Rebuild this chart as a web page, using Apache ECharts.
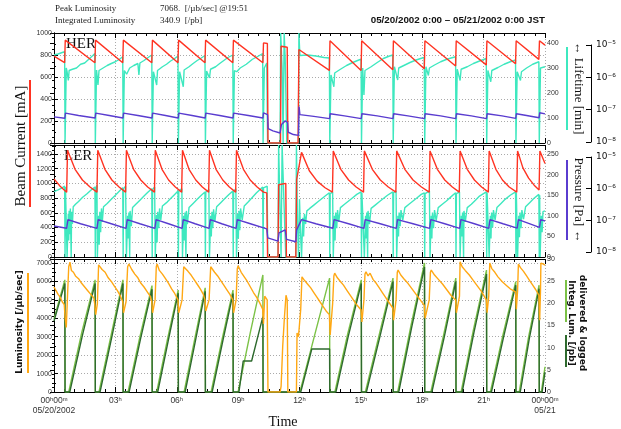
<!DOCTYPE html>
<html><head><meta charset="utf-8">
<script src="https://cdn.jsdelivr.net/npm/echarts@6/dist/echarts.min.js"></script>
<style>html,body{margin:0;padding:0;background:#fff}#c{width:621px;height:429px}</style>
</head><body><div id="c"></div>
<script>
// ---------- tick labels ----------
var timeTickValues = [0,3,6,9,12,15,18,21,24];
var timeTickLabels = ['00\u02b000\u1d50\n05/20/2002','03\u02b0','06\u02b0','09\u02b0','12\u02b0','15\u02b0','18\u02b0','21\u02b0','00\u02b000\u1d50\n05/21'];
var pressureTicks = [1e-8,1e-7,1e-6,1e-5];
var pressureTickLabels = ['10\u207b\u2078','10\u207b\u2077','10\u207b\u2076','10\u207b\u2075'];

// ---------- HER panel ----------
var herCurrent = [[0,790],[0.52,730],[0.55,935],[2.0,730],[2.03,935],[3.36,730],[3.39,935],[4.78,730],[4.81,935],
[6.06,730],[6.09,935],[7.38,730],[7.41,935],[8.74,730],[8.77,935],[10.21,730],[10.24,910],[10.43,905],[10.46,0],
[11.07,0],[11.1,880],[11.4,870],[11.43,0],[11.93,0],[11.97,850],[13.46,660],[13.49,930],[15.01,660],[15.04,930],
[16.56,665],[16.59,930],[18.1,675],[18.13,930],[19.63,700],[19.66,930],[21.13,710],[21.16,930],[22.56,720],[22.59,930],
[23.7,760],[23.73,930],[24,890]];
var herLifetime = [[0,352],[0.2,356],[0.4,362],[0.52,365],[0.54,0],[0.58,0],[0.6,300],[0.64,285],[0.7,250],[0.74,290],[0.9,295],[1.1,300],[1.3,315],[1.5,320],[1.7,335],[1.9,350],[2.0,358],
[2.02,0],[2.06,0],[2.08,292],[2.15,232],[2.2,290],[2.4,300],[2.6,310],[2.8,318],[3.0,325],[3.2,335],[3.36,345],
[3.38,0],[3.42,0],[3.44,290],[3.55,275],[3.7,300],[3.9,310],[4.1,318],[4.15,272],[4.2,320],[4.4,330],[4.6,342],[4.78,352],
[4.8,0],[4.84,0],[4.86,285],[5.02,232],[5.06,290],[5.3,305],[5.5,315],[5.7,328],[5.9,338],[6.06,348],
[6.08,0],[6.12,0],[6.14,285],[6.32,225],[6.36,292],[6.6,305],[6.8,318],[7.0,330],[7.2,340],[7.38,350],
[7.4,0],[7.44,0],[7.46,288],[7.6,260],[7.65,295],[7.9,305],[8.1,318],[8.3,330],[8.5,342],[8.74,352],
[8.76,0],[8.8,0],[8.82,290],[8.93,285],[9.1,300],[9.4,315],[9.7,335],[10.0,348],[10.2,358],
[10.22,0],[10.26,0],[10.28,300],[10.4,320],[10.44,0],[11.05,0],[11.08,440],[11.15,300],[11.2,0],[11.25,440],[11.3,340],[11.38,0],
[11.95,0],[11.97,440],[12.02,350],[12.4,352],[12.8,348],[13.2,342],[13.46,340],
[13.48,0],[13.52,0],[13.54,272],[13.68,225],[13.72,280],[14.0,295],[14.3,310],[14.6,322],[14.9,332],[15.01,335],
[15.03,0],[15.07,0],[15.09,300],[15.15,192],[15.2,290],[15.5,305],[15.8,322],[16.1,338],[16.4,348],[16.56,352],
[16.58,0],[16.62,0],[16.64,305],[16.8,252],[16.85,300],[17.1,310],[17.4,322],[17.7,332],[18.0,340],[18.1,342],
[18.12,0],[18.16,0],[18.18,305],[18.3,270],[18.35,300],[18.6,312],[18.9,325],[19.2,335],[19.5,342],[19.63,345],
[19.65,0],[19.69,0],[19.71,295],[19.85,250],[19.9,295],[20.2,305],[20.5,318],[20.8,328],[21.13,338],
[21.15,0],[21.19,0],[21.21,290],[21.35,245],[21.4,290],[21.7,302],[22.0,315],[22.3,325],[22.56,332],
[22.58,0],[22.62,0],[22.64,285],[22.8,250],[22.85,285],[23.1,300],[23.4,315],[23.7,325],
[23.72,0],[23.76,0],[23.78,300],[24,305]];
var herPressure = [[0,6.0e-8],[0.53,5.4e-8],[0.56,7.8e-8],[1.2,6.6e-8],[2.01,5.5e-8],[2.04,7.8e-8],[2.7,6.6e-8],[3.37,5.5e-8],[3.4,7.8e-8],
[4.1,6.6e-8],[4.79,5.5e-8],[4.82,7.8e-8],[5.45,6.6e-8],[6.07,5.5e-8],[6.1,7.8e-8],[6.75,6.6e-8],[7.39,5.5e-8],[7.42,7.8e-8],
[8.1,6.6e-8],[8.75,5.5e-8],[8.78,7.8e-8],[9.5,6.6e-8],[10.21,5.5e-8],[10.24,8e-8],[10.44,7e-8],[10.47,2.6e-8],[10.7,2.2e-8],
[11.05,1.9e-8],[11.12,3.5e-8],[11.3,4.5e-8],[11.42,4e-8],[11.45,2e-8],[11.7,1.7e-8],[11.95,1.6e-8],[11.98,1.25e-7],[12.02,7e-8],
[12.7,6.2e-8],[13.47,5.3e-8],[13.5,7.5e-8],[14.2,6.4e-8],[15.02,5.3e-8],[15.05,7.5e-8],[15.8,6.4e-8],[16.57,5.3e-8],[16.6,7.5e-8],
[17.3,6.4e-8],[18.11,5.3e-8],[18.14,7.5e-8],[18.9,6.4e-8],[19.64,5.3e-8],[19.67,7.5e-8],[20.4,6.4e-8],[21.14,5.3e-8],[21.17,7.5e-8],
[21.9,6.4e-8],[22.57,5.4e-8],[22.6,7.5e-8],[23.1,6.6e-8],[23.71,5.6e-8],[23.74,8e-8],[24,7.4e-8]];

// ---------- LER panel ----------
var lerCurrent = [[0,1060],[0.3,960],[0.62,880],[0.66,1450],[1.03,1190],[1.39,1045],[1.76,950],[2.1,880],[2.14,1450],
[2.49,1190],[2.83,1045],[3.18,950],[3.5,880],[3.54,1450],[3.89,1190],[4.24,1045],[4.58,950],[4.91,880],[4.95,1450],
[5.28,1190],[5.6,1045],[5.93,950],[6.24,880],[6.28,1450],[6.6,1190],[6.93,1045],[7.25,950],[7.56,880],[7.6,1450],
[7.92,1190],[8.25,1045],[8.57,950],[8.88,880],[8.92,1450],[9.26,1190],[9.59,1045],[9.93,950],[10.24,880],[10.4,870],[10.44,0],
[10.95,0],[10.98,980],[11.33,1000],[11.36,0],[11.82,0],[11.86,1050],[12.1,1420],[12.48,1170],[12.86,1030],[13.25,940],[13.61,880],
[13.65,1440],[14.02,1190],[14.4,1045],[14.77,950],[15.13,880],[15.17,1440],[15.56,1190],[15.95,1045],[16.34,950],[16.71,880],
[16.75,1440],[17.15,1190],[17.55,1045],[17.96,950],[18.34,880],[18.38,1440],[18.74,1190],[19.1,1045],[19.47,950],[19.81,880],
[19.85,1440],[20.2,1190],[20.55,1045],[20.9,950],[21.23,880],[21.27,1440],[21.6,1190],[21.92,1045],[22.25,950],[22.62,880],
[22.66,1440],[22.92,1210],[23.2,1070],[23.47,975],[23.71,910],[23.75,1440],[24,1270]];
var lerLifetime = [[0,159],[0.2,163],[0.4,168],[0.52,172],[0.54,0],[0.56,170],[0.62,174],[0.64,0],[0.68,0],[0.7,105],[0.72,40],[0.74,112],[0.77,55],[0.8,118],[0.84,0],[0.86,110],[0.9,80],[0.94,122],[1.05,128],[1.2,135],[1.4,145],[1.6,153],[1.8,162],[2.0,170],
[2.02,0],[2.04,168],[2.1,174],[2.12,0],[2.16,0],[2.18,100],[2.21,30],[2.24,110],[2.28,60],[2.32,118],[2.36,85],[2.42,122],[2.6,130],[2.8,140],[3.0,150],[3.2,160],[3.36,168],
[3.38,0],[3.4,166],[3.5,172],[3.54,0],[3.58,0],[3.6,100],[3.63,45],[3.66,108],[3.7,0],[3.72,112],[3.78,75],[3.84,120],[4.0,128],[4.2,138],[4.4,148],[4.6,158],[4.78,166],
[4.8,0],[4.82,164],[4.92,170],[4.95,0],[4.99,0],[5.01,102],[5.04,35],[5.07,110],[5.12,70],[5.16,118],[5.22,90],[5.3,124],[5.5,132],[5.7,142],[5.9,152],[6.06,160],
[6.08,0],[6.1,160],[6.25,166],[6.28,0],[6.32,0],[6.34,100],[6.37,40],[6.4,108],[6.45,0],[6.47,112],[6.52,80],[6.6,120],[6.8,130],[7.0,140],[7.2,150],[7.38,158],
[7.4,0],[7.42,158],[7.57,164],[7.6,0],[7.64,0],[7.66,100],[7.69,50],[7.72,110],[7.76,70],[7.8,116],[7.86,85],[7.95,122],[8.15,132],[8.35,142],[8.55,152],[8.74,160],
[8.76,0],[8.78,160],[8.89,166],[8.92,0],[8.96,0],[8.98,105],[9.01,45],[9.04,112],[9.08,65],[9.12,118],[9.2,90],[9.3,124],[9.5,134],[9.7,145],[9.9,156],[10.1,165],[10.2,170],
[10.22,0],[10.24,168],[10.42,172],[10.45,0],[10.95,0],[10.98,272],[11.05,110],[11.1,0],[11.15,272],[11.25,120],[11.33,0],[11.82,0],[11.85,272],[11.9,90],[11.95,0],[12.0,140],[12.05,60],[12.1,0],[12.14,0],[12.16,95],[12.2,50],[12.24,105],[12.3,80],[12.36,112],[12.5,118],[12.7,126],[12.9,134],[13.1,142],[13.3,150],[13.46,156],
[13.48,0],[13.5,154],[13.62,158],[13.65,0],[13.69,0],[13.71,100],[13.74,40],[13.77,108],[13.82,70],[13.86,114],[13.92,85],[14.0,120],[14.2,128],[14.4,136],[14.6,144],[14.8,152],[15.01,158],
[15.03,0],[15.05,156],[15.14,160],[15.17,0],[15.21,0],[15.23,100],[15.26,45],[15.29,108],[15.33,0],[15.35,112],[15.42,80],[15.5,118],[15.7,126],[15.9,134],[16.1,142],[16.3,150],[16.56,158],
[16.58,0],[16.6,156],[16.72,160],[16.75,0],[16.79,0],[16.81,100],[16.84,50],[16.87,108],[16.92,75],[16.96,114],[17.05,90],[17.15,120],[17.35,128],[17.55,136],[17.75,144],[17.95,152],[18.1,156],
[18.12,0],[18.14,154],[18.35,160],[18.38,0],[18.42,0],[18.44,100],[18.47,45],[18.5,108],[18.55,70],[18.6,114],[18.68,88],[18.78,120],[18.98,128],[19.18,136],[19.4,146],[19.63,156],
[19.65,0],[19.67,154],[19.82,158],[19.85,0],[19.89,0],[19.91,100],[19.94,50],[19.97,108],[20.02,0],[20.04,112],[20.1,85],[20.2,120],[20.4,128],[20.6,138],[20.8,148],[21.13,158],
[21.15,0],[21.17,156],[21.24,160],[21.27,0],[21.31,0],[21.33,100],[21.36,45],[21.39,108],[21.44,72],[21.48,114],[21.56,90],[21.65,120],[21.85,130],[22.05,140],[22.3,150],[22.56,158],
[22.58,0],[22.6,156],[22.64,158],[22.66,0],[22.7,0],[22.72,100],[22.75,48],[22.78,108],[22.83,70],[22.87,114],[22.95,92],[23.05,122],[23.25,132],[23.45,142],[23.7,152],
[23.72,0],[23.74,150],[23.76,0],[23.8,0],[23.82,100],[23.86,60],[23.9,110],[24,112]];
var lerPressure = [[0,6.6e-8],[0.62,5.6e-8],[0.68,1.05e-7],[1.3,7.8e-8],[2.1,5.6e-8],[2.16,1.05e-7],[2.8,7.8e-8],[3.52,5.6e-8],[3.58,1.05e-7],
[4.2,7.8e-8],[4.93,5.6e-8],[4.99,1.05e-7],[5.6,7.8e-8],[6.26,5.6e-8],[6.32,1.05e-7],[6.9,7.8e-8],[7.58,5.6e-8],[7.64,1.05e-7],
[8.2,7.8e-8],[8.9,5.6e-8],[8.96,1.05e-7],[9.6,7.8e-8],[10.4,5.4e-8],[10.45,2.8e-8],[10.95,2.2e-8],[11.0,4e-8],[11.3,5e-8],
[11.37,2.5e-8],[11.82,2.1e-8],[11.86,5e-8],[12.1,1.05e-7],[12.8,7.8e-8],[13.63,5.6e-8],[13.69,1.05e-7],[14.4,7.8e-8],[15.15,5.6e-8],
[15.21,1.05e-7],[15.95,7.8e-8],[16.73,5.6e-8],[16.79,1.05e-7],[17.55,7.8e-8],[18.36,5.6e-8],[18.42,1.05e-7],[19.1,7.8e-8],
[19.83,5.6e-8],[19.89,1.05e-7],[20.55,7.8e-8],[21.25,5.6e-8],[21.31,1.05e-7],[21.95,7.8e-8],[22.64,5.7e-8],[22.7,1.05e-7],
[23.2,8e-8],[23.73,6e-8],[23.79,1.05e-7],[24,9.5e-8]];

// ---------- Luminosity panel ----------
var luminosity = [[0,5700],[0.1,5500],[0.2,5300],[0.3,5150],[0.4,4900],[0.5,4750],[0.54,4100],[0.6,3500],[0.66,5200],[0.72,6800],[0.78,7050],[0.85,6600],[0.95,6500],[1.05,6300],[1.2,6150],[1.35,5900],[1.5,5700],[1.65,5500],[1.8,5300],[1.95,5100],[2.0,4700],
[2.04,4200],[2.12,4800],[2.18,6900],[2.24,7000],[2.35,6650],[2.5,6500],[2.65,6200],[2.8,6000],[2.95,5750],[3.1,5500],[3.25,5200],[3.36,4900],
[3.4,4300],[3.52,4900],[3.6,6800],[3.66,6950],[3.8,6650],[3.95,6400],[4.1,6200],[4.25,5900],[4.4,5700],[4.55,5450],[4.7,5200],[4.78,4900],
[4.82,4300],[4.94,5000],[5.0,6800],[5.04,6950],[5.15,6600],[5.3,6400],[5.45,6150],[5.6,5900],[5.75,5600],[5.9,5350],[6.06,5000],
[6.1,4300],[6.26,5000],[6.34,6800],[6.4,6900],[6.55,6550],[6.7,6350],[6.85,6100],[7.0,5850],[7.15,5600],[7.3,5300],[7.38,5000],
[7.42,4400],[7.58,5000],[7.66,6800],[7.72,6850],[7.85,6500],[8.0,6300],[8.15,6050],[8.3,5800],[8.45,5550],[8.6,5300],[8.74,5000],
[8.78,4300],[8.9,5000],[8.96,6700],[9.0,6850],[9.15,6500],[9.3,6250],[9.45,6000],[9.6,5700],[9.75,5400],[9.9,5150],[10.05,4850],[10.2,4500],
[10.24,3700],[10.3,5200],[10.42,5000],[10.46,0],[11.05,0],[11.1,300],[11.18,2500],[11.26,4000],[11.34,5250],[11.4,5000],[11.43,0],[11.85,0],[11.88,3200],[11.95,3000],[12.0,3100],[12.06,4500],[12.12,6250],
[12.25,6050],[12.4,5850],[12.55,5650],[12.7,5400],[12.85,5150],[13.0,4900],[13.15,4650],[13.3,4400],[13.46,4200],
[13.5,3100],[13.62,4800],[13.68,6300],[13.72,6450],[13.85,6200],[14.0,6000],[14.15,5800],[14.3,5550],[14.45,5300],[14.6,5050],[14.75,4800],[14.9,4600],[15.01,4450],
[15.05,3800],[15.15,5000],[15.2,6400],[15.25,6530],[15.35,6300],[15.45,6450],[15.6,6100],[15.75,5900],[15.9,5650],[16.05,5400],[16.2,5150],[16.35,4900],[16.56,4560],
[16.6,3900],[16.72,5000],[16.78,6500],[16.82,6620],[16.95,6350],[17.1,6150],[17.3,5900],[17.5,5600],[17.7,5300],[17.9,5000],[18.1,4700],
[18.14,4000],[18.34,5000],[18.4,6500],[18.44,6620],[18.6,6350],[18.8,6100],[19.0,5850],[19.2,5550],[19.4,5250],[19.63,5000],
[19.67,4300],[19.82,5200],[19.85,7068],[19.95,6800],[20.1,6600],[20.3,6350],[20.5,6050],[20.7,5750],[20.9,5450],[21.13,5000],
[21.17,4300],[21.25,5200],[21.3,7000],[21.4,6700],[21.55,6500],[21.7,6250],[21.9,6000],[22.1,5800],[22.3,5600],[22.56,5440],
[22.6,4500],[22.66,5500],[22.7,6950],[22.8,6750],[22.95,6550],[23.1,6300],[23.25,6050],[23.4,5800],[23.55,5550],[23.7,5260],
[23.74,3900],[23.78,5500],[23.8,7000],[23.9,6950],[24,6890]];
var integDelivered = [[0,16.5],[0.53,25.3],[0.54,0],[0.72,0],[1.36,13.5],[2.01,25.3],[2.02,0],[2.2,0],[2.8,13],[3.37,25.3],[3.38,0],
[3.62,0],[4.2,12.5],[4.79,24],[4.8,0],[5.02,0],[5.55,12],[6.07,23],[6.08,0],[6.36,0],[6.88,12],[7.39,23.5],[7.4,0],[7.68,0],
[8.22,12],[8.75,23],[8.76,0],[9.0,0],[9.6,13.5],[10.21,26.4],[10.22,0],[12.02,0],[12.75,13],[13.47,25.7],[13.48,0],[13.73,0],
[14.35,13],[15.02,25.3],[15.03,0],[15.22,0],[15.9,13],[16.57,25.7],[16.58,0],[16.8,0],[17.45,15],[18.11,29.1],[18.12,0],[18.42,0],
[19.05,13],[19.64,25.7],[19.65,0],[19.9,0],[20.5,14],[21.14,27.5],[21.15,0],[21.33,0],[21.95,13],[22.57,24.9],[22.58,0],[22.74,0],
[23.2,12.5],[23.71,24.1],[23.72,0],[23.82,0],[24,5.7]];
var integLogged = [[0,16],[0.53,24.5],[0.54,0],[0.77,0],[1.4,13],[2.01,24.5],[2.02,0],[2.25,0],[2.83,12.5],[3.37,24.5],[3.38,0],
[3.67,0],[4.23,12],[4.79,23.2],[4.8,0],[5.07,0],[5.58,11.5],[6.07,22.3],[6.08,0],[6.41,0],[6.91,11.5],[7.39,22.7],[7.4,0],[7.73,0],
[8.25,11.5],[8.75,22.2],[8.76,0],[9.04,0],[9.25,7],[9.66,7],[10.21,17],[10.22,0],[12.06,0],[12.6,9.7],[13.47,9.7],[13.48,0],
[13.78,0],[14.38,12.5],[15.02,24.5],[15.03,0],[15.27,0],[15.93,12.5],[16.57,24.9],[16.58,0],[16.85,0],[17.48,14.5],[18.11,28.2],[18.12,0],
[18.47,0],[19.08,12.5],[19.64,24.9],[19.65,0],[19.95,0],[20.53,13.5],[21.14,26.6],[21.15,0],[21.38,0],[21.98,12.5],[22.57,24.1],[22.58,0],
[22.79,0],[23.23,12],[23.71,23.3],[23.72,0],[23.86,0],[24,4.5]];

// ---------- chart ----------
var C = {red:'#ff3322', teal:'#3ee8bf', purple:'#5a3ccf', orange:'#ffa814', lgreen:'#7cc247', dgreen:'#2e6a2e'};
var tickFont = {fontFamily:'Liberation Sans', fontSize:7, color:'#333'};
var chart = echarts.init(document.getElementById('c'));

function xMain(grid, labels){
  return {type:'value', gridIndex:grid, min:0, max:24, interval:3, position:'bottom',
    axisLine:{show:true, onZero:false, lineStyle:{color:'#000', width:1}},
    axisTick:{show:true, inside:true, length:5, lineStyle:{color:'#000'}},
    minorTick:{show:true, splitNumber:6, length:3, lineStyle:{color:'#000'}},
    splitLine:{show:true, lineStyle:{color:'#aaa', type:[1,2], width:1}},
    axisLabel:{show:labels, fontFamily:'Liberation Sans', fontSize:8.5, color:'#333', lineHeight:10, margin:4,
      formatter:function(v){var i=timeTickValues.indexOf(v);return i<0?'':timeTickLabels[i];}}};
}
function xTop(grid){
  return {type:'value', gridIndex:grid, min:0, max:24, interval:3, position:'top',
    axisLine:{show:true, onZero:false, lineStyle:{color:'#000', width:1}},
    axisTick:{show:true, inside:true, length:5, lineStyle:{color:'#000'}},
    minorTick:{show:true, splitNumber:6, length:3, lineStyle:{color:'#000'}},
    splitLine:{show:false}, axisLabel:{show:false}};
}
function xDummy(grid){ return {type:'value', gridIndex:grid, show:false, min:0, max:1}; }
function yLin(grid, pos, max, interval, minorN, split){
  return {type:'value', gridIndex:grid, position:pos, min:0, max:max, interval:interval,
    axisLine:{show:true, lineStyle:{color:'#000', width:1}},
    axisTick:{show:true, inside:true, length:4, lineStyle:{color:'#000'}},
    minorTick:{show:true, splitNumber:minorN, length:2, lineStyle:{color:'#000'}},
    splitLine:{show:split, lineStyle:{color:'#aaa', type:[1,2], width:1}},
    axisLabel:Object.assign({margin:2, showMaxLabel: (max % interval === 0),
      formatter:function(v){return String(v);}}, tickFont)};
}
function yLogHidden(grid, mn, mx){ return {type:'log', logBase:10, gridIndex:grid, show:false, min:mn, max:mx}; }
function yLogShown(grid){
  return {type:'log', logBase:10, gridIndex:grid, position:'right', min:1e-8, max:1e-5,
    axisLine:{show:true, lineStyle:{color:'#000', width:1}},
    axisTick:{show:true, inside:true, length:5, lineStyle:{color:'#000'}},
    splitLine:{show:false}, minorTick:{show:false},
    axisLabel:{margin:4, fontFamily:'DejaVu Sans', fontSize:9, color:'#111',
      formatter:function(v){for(var i=0;i<pressureTicks.length;i++){if(Math.abs(Math.log10(v)-Math.log10(pressureTicks[i]))<1e-6)return pressureTickLabels[i];}return '';}}};
}
function line(name, data, xi, yi, color, z){
  return {name:name, type:'line', data:data, xAxisIndex:xi, yAxisIndex:yi, showSymbol:false, symbol:'none',
    clip:true, lineStyle:{color:color, width:1.4}, z:z||2, animation:false};
}

var option = {
  animation:false,
  backgroundColor:'#fff',
  grid:[
    {left:54, width:491, top:33, height:110},
    {left:54, width:491, top:145, height:112},
    {left:54, width:491, top:259, height:133},
    {left:591, width:1, top:45, height:97},
    {left:591, width:1, top:157, height:95}
  ],
  xAxis:[xMain(0,false), xMain(1,false), xMain(2,true), xTop(0), xTop(1), xTop(2), xDummy(3), xDummy(4)],
  yAxis:[
    yLin(0,'left',1000,200,2,true),
    yLin(0,'right',440,100,4,false),
    yLogHidden(0, 9.31e-9, 2.35e-5),
    yLin(1,'left',1520,200,2,true),
    yLin(1,'right',272,50,5,false),
    yLogHidden(1, 6.95e-9, 2.39e-5),
    yLin(2,'left',7220,1000,2,true),
    yLin(2,'right',30,5,5,false),
    yLogShown(3),
    yLogShown(4)
  ],
  series:[
    line('HER lifetime', herLifetime, 0, 1, C.teal, 2),
    line('HER current', herCurrent, 0, 0, C.red, 3),
    line('HER pressure', herPressure, 0, 2, C.purple, 4),
    line('LER lifetime', lerLifetime, 1, 4, C.teal, 2),
    line('LER current', lerCurrent, 1, 3, C.red, 3),
    line('LER pressure', lerPressure, 1, 5, C.purple, 4),
    line('Delivered', integDelivered, 2, 7, C.lgreen, 2),
    line('Logged', integLogged, 2, 7, C.dgreen, 3),
    line('Luminosity', luminosity, 2, 6, C.orange, 4)
  ],
  graphic:[
    {type:'text', left:55, top:4, style:{text:'Peak Luminosity', font:'9px "Liberation Serif"', fill:'#222'}},
    {type:'text', left:55, top:16, style:{text:'Integrated Luminosity', font:'9px "Liberation Serif"', fill:'#222'}},
    {type:'text', left:160, top:4, style:{text:'7068.  [/\u00b5b/sec] @19:51', font:'9px "Liberation Serif"', fill:'#222'}},
    {type:'text', left:160, top:16, style:{text:'340.9  [/pb]', font:'9px "Liberation Serif"', fill:'#222'}},
    {type:'text', right:76, top:15, style:{text:'05/20/2002 0:00 \u2013 05/21/2002 0:00 JST', font:'bold 9.8px "Liberation Sans"', fill:'#111'}},
    {type:'text', left:66, top:37, style:{text:'HER', font:'15px "Liberation Serif"', fill:'#111'}},
    {type:'text', left:64, top:149, style:{text:'LER', font:'15px "Liberation Serif"', fill:'#111'}},
    {type:'text', x:21, y:146, rotation:Math.PI/2, style:{text:'Beam Current [mA]', font:'15px "Liberation Serif"', fill:'#111', align:'center', verticalAlign:'middle'}},
    {type:'line', shape:{x1:30, y1:80, x2:30, y2:207}, style:{stroke:C.red, lineWidth:2}},
    {type:'text', x:578, y:88, rotation:-Math.PI/2, style:{text:'\u2194 Lifetime [min]', font:'13px "Liberation Serif"', fill:'#111', align:'center', verticalAlign:'middle'}},
    {type:'line', shape:{x1:567, y1:47, x2:567, y2:130}, style:{stroke:C.teal, lineWidth:2}},
    {type:'text', x:578, y:200, rotation:-Math.PI/2, style:{text:'Pressure [Pa] \u2194', font:'13px "Liberation Serif"', fill:'#111', align:'center', verticalAlign:'middle'}},
    {type:'line', shape:{x1:567, y1:160, x2:567, y2:240}, style:{stroke:C.purple, lineWidth:2}},
    {type:'text', x:20, y:322, rotation:Math.PI/2, style:{text:'Luminosity [/\u00b5b/sec]', font:'bold 9px "DejaVu Sans"', fill:'#111', align:'center', verticalAlign:'middle'}},
    {type:'line', shape:{x1:28, y1:273, x2:28, y2:373}, style:{stroke:C.orange, lineWidth:2}},
    {type:'text', x:577, y:323, rotation:-Math.PI/2, style:{text:'delivered & logged\nInteg. Lum. [/pb]', font:'bold 9px "DejaVu Sans"', fill:'#111', align:'center', verticalAlign:'middle', lineHeight:11}},
    {type:'line', shape:{x1:566, y1:280, x2:566, y2:322}, style:{stroke:C.lgreen, lineWidth:2}},
    {type:'line', shape:{x1:566, y1:335, x2:566, y2:367}, style:{stroke:C.dgreen, lineWidth:2}},
    {type:'text', x:283, y:422, style:{text:'Time', font:'14px "Liberation Serif"', fill:'#111', align:'center', verticalAlign:'middle'}}
  ]
};
chart.setOption(option);
</script></body></html>
